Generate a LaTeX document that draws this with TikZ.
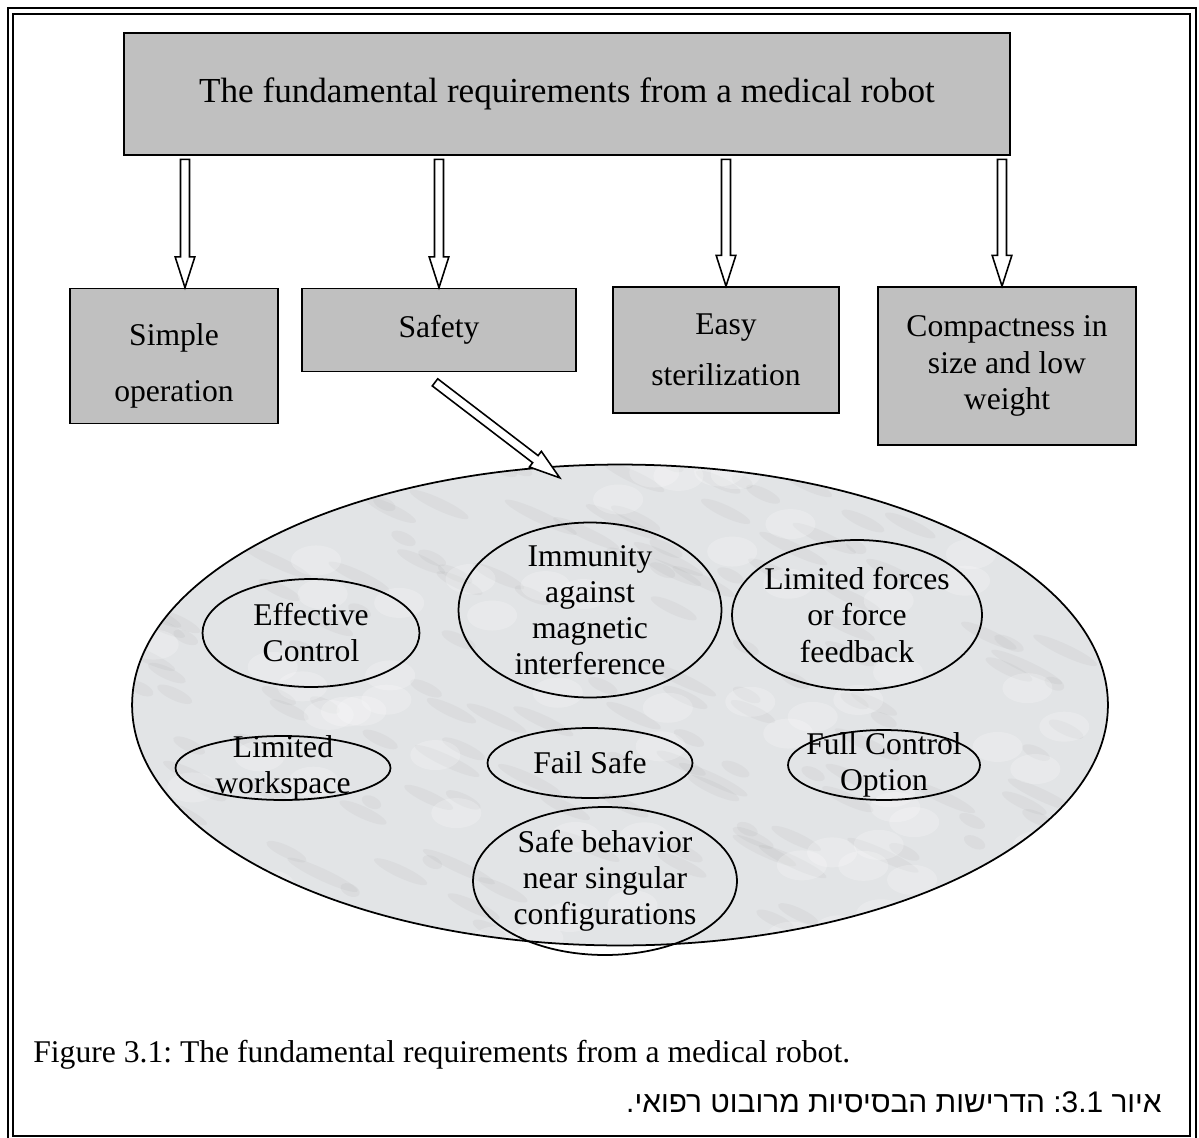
\documentclass[tikz,border=0pt]{standalone}
\usepackage{fontspec}
\setmainfont{Liberation Serif}
\newfontfamily\hebfont[Script=Hebrew]{Liberation Sans}
\TeXXeTstate=1
\frenchspacing
\usetikzlibrary{positioning,calc,shapes.geometric}
\definecolor{boxgray}{RGB}{192,192,192}
\definecolor{marble}{RGB}{226,228,230}
\tikzset{
	reqbox/.style={rectangle, draw=black, fill=boxgray, line width=1pt, align=center, font=\fontsize{18}{21}\selectfont},
	bubble/.style={ellipse, draw=black, line width=1pt, inner sep=0pt},
	bubtext/.style={align=center, font=\fontsize{18}{20.5}\selectfont},
	hollowarr/.style={draw=black, fill=white, line width=0.9pt, line join=miter}
}
\newcommand{\shaftw}{2.55pt}
\newcommand{\headw}{5.6pt}
\newcommand{\headl}{17.5pt}
\newcommand{\hollowarrow}[2]{%
	\draw[hollowarr] let \p1=#1, \p2=#2,
		\n1={atan2(\y2-\y1,\x2-\x1)}, \n2={veclen(\x2-\x1,\y2-\y1)} in
		[shift={(\p1)}, rotate=\n1]
		(0pt,-\shaftw) -- ({\n2*1pt-\headl},-\shaftw) -- ({\n2*1pt-\headl},-\headw)
		-- ({\n2*1pt},0pt) -- ({\n2*1pt-\headl},\headw) -- ({\n2*1pt-\headl},\shaftw)
		-- (0pt,\shaftw) -- cycle;}

\begin{document}
\begin{tikzpicture}[x=0.02cm, y=-0.02cm]
	\useasboundingbox (0,0) rectangle (1199,1138);
	% double frame
	\draw[line width=0.8pt] (8,1140) -- (8,8) -- (1196,8) -- (1196,1140);
	\draw[line width=1.3pt] (13,14) rectangle (1190,1136);

	\node[reqbox, minimum width=17.72cm, minimum height=2.44cm, font=\fontsize{20}{24}\selectfont] at (567,94) (title) {The fundamental requirements from a medical robot};
	\node[reqbox, minimum width=4.16cm, minimum height=2.7cm, font=\fontsize{18}{32}\selectfont] at (174,356) (simple) {\rule{0pt}{24pt}Simple\\operation};
	\node[reqbox, minimum width=5.48cm, minimum height=1.66cm] at (439,330) (safety) {Safety};
	\node[reqbox, minimum width=4.52cm, minimum height=2.52cm, font=\fontsize{18}{29}\selectfont] at (726,350) (easy) {Easy\\sterilization};
	\node[reqbox, minimum width=5.16cm, minimum height=3.16cm] at (1007,366) (compact) {Compactness in\\size and low\\weight};

	\hollowarrow{([xshift=0.22cm,yshift=-2pt]title.south -| simple.north)}{([xshift=0.22cm]simple.north)}
	\hollowarrow{([yshift=-2pt]title.south -| safety.north)}{(safety.north)}
	\hollowarrow{([yshift=-2pt]title.south -| easy.north)}{(easy.north)}
	\hollowarrow{([xshift=-0.1cm,yshift=-2pt]title.south -| compact.north)}{([xshift=-0.1cm]compact.north)}

	% marble ellipse
	\node[ellipse, fill=marble, minimum width=19.52cm, minimum height=9.62cm] at (620,705) (marble) {};
	\begin{scope}
		\clip (620,705) ellipse [x radius=9.76cm, y radius=4.81cm];
		\pgfmathsetseed{11}
		\foreach \k in {1,...,160}{
			\pgfmathsetmacro{\mx}{130+980*rnd}
			\pgfmathsetmacro{\my}{465+480*rnd}
			\pgfmathsetmacro{\rx}{0.2+0.6*rnd}
			\fill[gray, opacity=0.07, rotate around={-25:(\mx,\my)}] (\mx,\my) ellipse [x radius=\rx cm, y radius=0.12cm];
		}
		\foreach \k in {1,...,70}{
			\pgfmathsetmacro{\mx}{130+980*rnd}
			\pgfmathsetmacro{\my}{465+480*rnd}
			\fill[white, opacity=0.22] (\mx,\my) ellipse [x radius=0.5cm, y radius=0.3cm];
		}
	\end{scope}
	\draw[line width=1pt] (620,705) ellipse [x radius=9.76cm, y radius=4.81cm];

	\coordinate (saftail) at ($(safety.south)+(-4,10)$);
	\coordinate (saftip) at (560,478);
	\hollowarrow{(saftail)}{(saftip)}

	\node[bubble, minimum width=4.34cm, minimum height=2.16cm] at (311,633) (effctl) {};
	\node[bubtext] at (effctl) {Effective\\Control};
	\node[bubble, minimum width=5.26cm, minimum height=3.5cm] at (590,610) (immune) {};
	\node[bubtext] at (immune) {Immunity\\against\\magnetic\\interference};
	\node[bubble, minimum width=5.0cm, minimum height=3.0cm] at (857,615) (forces) {};
	\node[bubtext] at (forces) {Limited forces\\or force\\feedback};
	\node[bubble, minimum width=4.3cm, minimum height=1.28cm] at (283,768) (workspc) {};
	\node[bubtext] at (workspc) {Limited\\workspace};
	\node[bubble, minimum width=4.1cm, minimum height=1.4cm] at (590,763) (failsafe) {};
	\node[bubtext] at (failsafe) {Fail Safe};
	\node[bubble, minimum width=3.84cm, minimum height=1.4cm] at (884,765) (fullctl) {};
	\node[bubtext] at (fullctl) {Full Control\\Option};
	\node[bubble, minimum width=5.28cm, minimum height=2.96cm] at (605,881) (singular) {};
	\node[bubtext] at (singular) {Safe behavior\\near singular\\configurations};

	% captions
	\node[anchor=base west, inner sep=0pt, font=\fontsize{18}{21}\selectfont] at (33,1062) (caption) {Figure 3.1: The fundamental requirements from a medical robot.};
	\node[anchor=base east, inner sep=0pt, font=\hebfont\fontsize{17}{21}\selectfont] at (1162,1112) (hebcap) {\beginR איור \beginL 3.1\endL: הדרישות הבסיסיות מרובוט רפואי.\endR};
\end{tikzpicture}
\end{document}
